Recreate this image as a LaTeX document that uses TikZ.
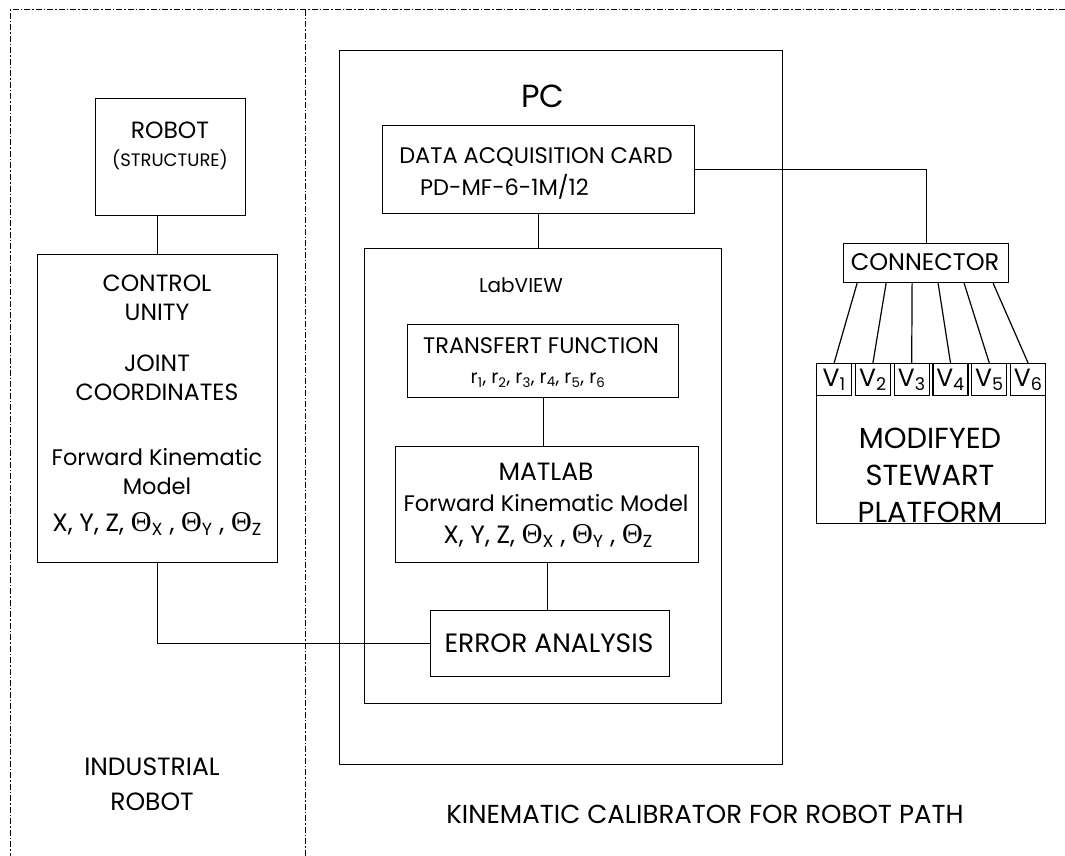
\documentclass[tikz,border=0pt]{standalone}
\usepackage{fontspec}
\setmainfont{Poppins}
\newfontfamily\grk[Scale=1.15]{Liberation Serif}
\newcommand\lowidx[1]{\textsubscript{#1}}
\newcommand\thx[1]{{\grk Θ}\lowidx{#1}}
\newcommand\fz[2]{\fontsize{#1}{#2}\selectfont}
\newcommand\posline{X,~Y,~Z,~\thx{X}~,~\thx{Y}~,~\thx{Z}}
\begin{document}
\begin{tikzpicture}[x=1pt,y=-1pt,
  box/.style={draw, line width=1.2pt, inner sep=0pt, anchor=north west},
  wire/.style={line width=1.2pt},
  frame/.style={line width=1pt, dash pattern=on 6pt off 2pt on 1.5pt off 2pt},
  txt/.style={inner sep=0pt, align=center}]
\useasboundingbox (0,0) rectangle (1065,856);

% dash-dot frame and divider
\coordinate (fTL) at (10,10);
\coordinate (fTR) at (1065,10);
\coordinate (fBL) at (10,856);
\coordinate (dT) at (305,10);
\coordinate (dB) at (305,856);
\draw[frame] (fTR) -- (fTL) -- (fBL);
\draw[frame] (dT) -- (dB);

% boxes
\node[box, minimum width=150pt, minimum height=117pt] (robot) at (95,98) {};
\node[box, minimum width=240pt, minimum height=308pt] (control) at (37,254) {};
\node[box, minimum width=443pt, minimum height=714pt] (pc) at (339,50) {};
\node[box, minimum width=312pt, minimum height=88pt] (daq) at (382,125) {};
\node[box, minimum width=357pt, minimum height=455pt] (lab) at (364,248) {};
\node[box, minimum width=271pt, minimum height=73pt] (tf) at (407,324) {};
\node[box, minimum width=303pt, minimum height=116pt] (mat) at (395,446) {};
\node[box, minimum width=239pt, minimum height=66pt] (err) at (430,610) {};
\node[box, minimum width=165pt, minimum height=39pt] (conn) at (843,243) {};
\node[box, minimum width=229pt, minimum height=160pt] (stew) at (816,363) {};
\foreach \i in {1,...,6}
  \node[box, minimum width=35pt, minimum height=32pt, font=\fz{25}{28}] (v\i)
    at ({816+38.8*(\i-1)},363) {V\lowidx{\i}};

% texts
\node[txt, font=\fz{32}{36}] (tPC) at (543,96) {PC};
\node[txt, font=\fz{22.5}{28}] (tDaq1) at (536,157) {DATA ACQUISITION CARD};
\node[txt, font=\fz{22.5}{28}, anchor=west] (tDaq2) at (420,187) {PD-MF-6-1M/12};
\node[txt, font=\fz{20}{26}] (tLab) at (521,285) {LabVIEW};
\node[txt, font=\fz{22.5}{28}] (tTf1) at (541,346) {TRANSFERT FUNCTION};
\node[txt, font=\fz{19}{22}] (tTf2) at (538,380)
  {r\lowidx{1}, r\lowidx{2}, r\lowidx{3}, r\lowidx{4}, r\lowidx{5}, r\lowidx{6}};
\node[txt, font=\fz{25}{30}] (tMat1) at (546,472) {MATLAB};
\node[txt, font=\fz{22.5}{28}] (tMat2) at (546,503) {Forward Kinematic Model};
\node[txt, font=\fz{25}{28}] (tMat3) at (548,536) {\posline};
\node[txt, font=\fz{26.5}{30}] (tErr) at (549,643) {ERROR ANALYSIS};
\node[txt, font=\fz{23.5}{28}] (tRob1) at (170,130) {ROBOT};
\node[txt, font=\fz{18}{22}] (tRob2) at (170,160) {(STRUCTURE)};
\node[txt, font=\fz{23.5}{29}] (tCtl1) at (157,298) {CONTROL\\UNITY};
\node[txt, font=\fz{23.5}{29}] (tCtl2) at (157,378) {JOINT\\COORDINATES};
\node[txt, font=\fz{22.5}{29}] (tCtl3) at (157,472) {Forward Kinematic\\Model};
\node[txt, font=\fz{25}{28}] (tCtl4) at (157,524) {\posline};
\node[txt, font=\fz{24}{28}] (tConn) at (925,262) {CONNECTOR};
\node[txt, font=\fz{29}{37}] (tStew) at (930,475) {MODIFYED\\STEWART\\PLATFORM};
\node[txt, font=\fz{25}{35}] (tInd) at (152,784) {INDUSTRIAL\\ROBOT};
\node[txt, font=\fz{26}{30}] (tKin) at (705,814) {KINEMATIC CALIBRATOR FOR ROBOT PATH};

% connectors
\draw[wire] (robot.south -| control.north) -- (control.north);
\draw[wire] (control.south) |- (err.west);
\draw[wire] (daq.south) -- (daq.south |- lab.north);
\draw[wire] (tf.south) -- (tf.south |- mat.north);
\draw[wire] (mat.south) -- (mat.south |- err.north);
\draw[wire] (daq.east) -| (conn.north);
\foreach \i/\dx in {1/-69,2/-40,3/-14,4/12,5/38,6/67}
  \draw[wire] ([xshift=\dx pt]conn.south) -- (v\i.north);
\end{tikzpicture}
\end{document}
